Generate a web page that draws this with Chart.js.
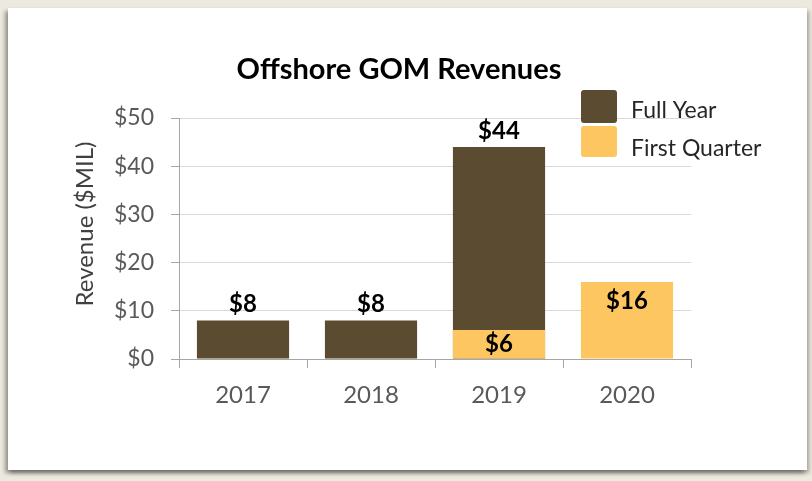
<!DOCTYPE html>
<html>
<head>
  <title>Offshore GOM Revenues</title>
  <style>
    body { margin: 0; background: #ece9de; }
    #frame {
      position: absolute; left: 8px; top: 8px; width: 799px; height: 462px; background: #fff;
      box-shadow: -3px 3px 4px rgba(0,0,0,0.35), 2px 3px 4px rgba(0,0,0,0.3);
    }
    #wrap { position: absolute; left: 0; top: 0; width: 812px; height: 481px; }
  </style>
  <script src="https://cdn.jsdelivr.net/npm/chart.js"></script>
  <script>
    const years = ['2017', '2018', '2019', '2020'];
    const fullYear = [8, 8, 44, null];
    const firstQuarter = [null, null, 6, 16];
    const seriesNames = ['Full Year', 'First Quarter'];
    const seriesColors = ['#5b4b31', '#fec660'];
    const chartTitle = 'Offshore GOM Revenues';
    const yTitle = 'Revenue ($MIL)';

    // labels, title, legend drawn on top of the bars
    const overlay = {
      id: 'overlay',
      afterDatasetsDraw(chart) {
        const ctx = chart.ctx;
        ctx.save();
        ctx.font = 'bold 24px Lato';
        ctx.fillStyle = '#000';
        ctx.textAlign = 'center';
        ctx.textBaseline = 'middle';
        chart.getDatasetMeta(0).data.forEach(function (bar, i) {
          if (fullYear[i] == null) return;
          ctx.fillText('$' + fullYear[i], bar.x, bar.y - 16);
        });
        chart.getDatasetMeta(1).data.forEach(function (bar, i) {
          if (firstQuarter[i] == null) return;
          const y = Math.min(bar.y + 19, (bar.y + bar.base) / 2);
          ctx.fillText('$' + firstQuarter[i], bar.x, y);
        });

        // title
        ctx.font = 'bold 29px Lato';
        ctx.fillText(chartTitle, 399, 70);

        // y axis title
        ctx.save();
        ctx.translate(85, 224);
        ctx.rotate(-Math.PI / 2);
        ctx.font = '24px Lato';
        ctx.fillStyle = '#404040';
        ctx.fillText(yTitle, 0, 0);
        ctx.restore();

        // legend
        ctx.textAlign = 'left';
        ctx.font = '23px Lato';
        const boxes = [[90, 33, 111], [126, 31, 149]];
        seriesNames.forEach(function (name, i) {
          ctx.fillStyle = seriesColors[i];
          ctx.beginPath();
          ctx.roundRect(581, boxes[i][0], 36, boxes[i][1], 3);
          ctx.fill();
          ctx.fillStyle = '#262626';
          ctx.fillText(name, 631, boxes[i][2]);
        });
        ctx.restore();
      }
    };

    document.addEventListener('DOMContentLoaded', function () {
      const ctx = document.getElementById('chart').getContext('2d');
      new Chart(ctx, {
        type: 'bar',
        data: {
          labels: years,
          datasets: [
            {
              label: seriesNames[0],
              data: fullYear,
              backgroundColor: seriesColors[0],
              order: 2
            },
            {
              label: seriesNames[1],
              data: firstQuarter,
              backgroundColor: seriesColors[1],
              order: 1
            }
          ]
        },
        options: {
          responsive: false,
          animation: false,
          barPercentage: 0.72,
          categoryPercentage: 1,
          layout: { padding: { top: 118, right: 121, bottom: 62, left: 0 } },
          plugins: {
            legend: { display: false },
            title: { display: false },
            tooltip: { enabled: false }
          },
          scales: {
            x: {
              stacked: true,
              afterFit: function (scale) { scale.height = 60; },
              border: { color: '#a6a6a6', width: 1 },
              grid: { drawOnChartArea: false, offset: true, tickLength: 9, tickColor: '#a6a6a6' },
              ticks: { color: '#595959', font: { family: 'Lato', size: 24 }, padding: 13 }
            },
            y: {
              stacked: false,
              min: 0,
              max: 50,
              afterFit: function (scale) { scale.width = 179; },
              border: { color: '#a6a6a6', width: 1 },
              grid: { color: '#d9d9d9', tickLength: 8, tickColor: '#a6a6a6' },
              ticks: {
                stepSize: 10,
                color: '#595959',
                font: { family: 'Lato', size: 23 },
                padding: 17,
                callback: function (v) { return '$' + v; }
              }
            }
          }
        },
        plugins: [overlay]
      });
    });
  </script>
</head>
<body>
  <div id="frame"></div>
  <div id="wrap"><canvas id="chart" width="812" height="481"></canvas></div>
</body>
</html>
